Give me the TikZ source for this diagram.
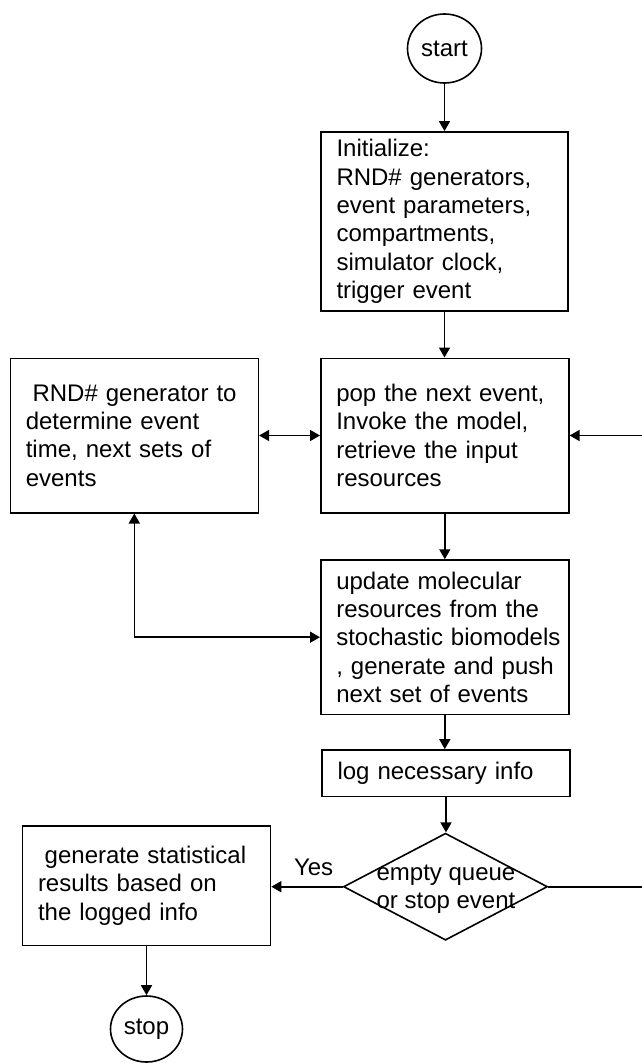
\documentclass[tikz,border=0pt]{standalone}
\usepackage{fontspec}
\setmainfont{Liberation Sans}
\usetikzlibrary{shapes.geometric,arrows.meta}
% one unbreakable line of box text
\newcommand\boxline[1]{\mbox{#1}}
\begin{document}
\begin{tikzpicture}[x=1pt,y=-1pt,
  every node/.style={font=\fontsize{24}{28.3}\selectfont},
  flowbox/.style={draw, line width=1.6pt, rectangle, inner xsep=15.5pt, inner ysep=0pt, align=left},
  terminal/.style={draw, line width=1.6pt, ellipse, inner sep=0pt},
  decision/.style={draw, line width=1.6pt, diamond, inner sep=0pt, minimum width=204pt, minimum height=107pt},
  tip/.tip={Triangle[length=10pt,width=11pt]},
  flow/.style={line width=1.6pt, -tip},
  twoway/.style={line width=1.6pt, tip-tip},
  plain/.style={line width=1.6pt},
]
\useasboundingbox (0,0) rectangle (642,1063);

% nodes
\node[terminal, minimum width=74pt, minimum height=69pt] (start) at (444.5,48.5) {start};
\node[flowbox, text width=216pt, minimum height=179pt] (init) at (444.5,221.4)
  {Initialize:\\RND\# generators,\\event parameters,\\compartments,\\simulator clock,\\trigger event};
\node[flowbox, text width=217pt, minimum height=154.4pt] (rnd) at (134.3,435.5)
  {\hspace*{0.28em}RND\# generator to\\determine event\\time, next sets of\\events};
\node[flowbox, text width=217pt, minimum height=154.4pt] (pop) at (444.8,435.5)
  {pop the next event,\\Invoke the model,\\retrieve the input\\resources};
\node[flowbox, text width=217pt, minimum height=154.3pt] (update) at (444.8,637.2)
  {\boxline{update molecular}\\\boxline{resources from the}\\\boxline{stochastic biomodels}\\\boxline{, generate and push}\\\boxline{next set of events}};
\node[flowbox, text width=217pt, minimum height=46.7pt] (log) at (446,773.3)
  {log necessary info};
\node[decision] (dec) at (445.5,886.7) {};
\node[align=center, inner sep=0pt] (dectext) at (446,889) {empty queue\\or stop event};
\node[flowbox, text width=217pt, minimum height=119.3pt] (gen) at (146.5,885.7)
  {\hspace*{0.28em}generate statistical\\results based on\\the logged info};
\node[terminal, minimum width=72pt, minimum height=66pt] (stop) at (146.5,1029) {stop};
\node[inner sep=0pt] (yes) at (313.6,867) {Yes};

\coordinate (rin) at (642,435.5);
\coordinate (rout) at (642,886.7);

% connectors
\draw[flow] (start) -- (start |- init.north);
\draw[flow] (init.south) -- (init.south |- pop.north);
\draw[twoway] (rnd) -- (pop);
\draw[flow] (rin) -- (pop.east);
\draw[flow] (pop.south) -- (pop.south |- update.north);
\draw[twoway] (rnd.south) |- (update.west);
\draw[flow] (update.south) -- (update.south |- log.north);
\draw[flow] (log.south) -- (log.south |- dec.north);
\draw[flow] (dec.west) -- (dec.west -| gen.east);
\draw[plain] (dec.east) -- (rout);
\draw[flow] (gen.south) -- (stop.north);
\end{tikzpicture}
\end{document}
